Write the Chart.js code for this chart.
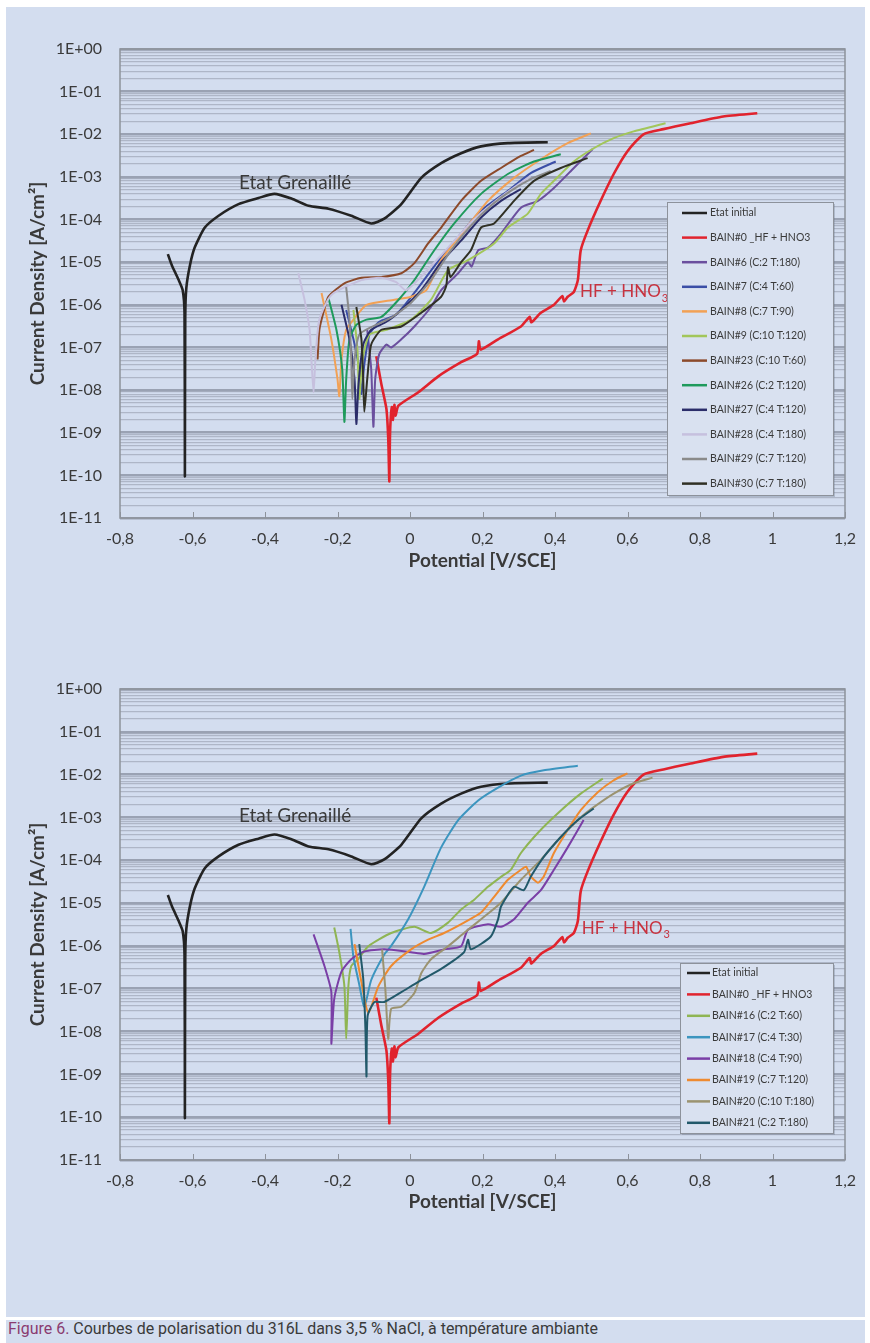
<!DOCTYPE html>
<html><head><meta charset="utf-8">
<script src="https://cdn.jsdelivr.net/npm/chart.js@4.4.1/dist/chart.umd.min.js"></script>
<style>
html,body{margin:0;padding:0;background:#fff;}
body{width:870px;height:1343px;position:relative;overflow:hidden;font-family:Lato,sans-serif;}
#panel{position:absolute;left:6px;top:7px;width:859px;height:1310px;background:#d3ddef;}
#capbar{position:absolute;left:6px;top:1320px;width:859px;height:23px;background:#d3ddef;}
#caption{position:absolute;left:8px;top:1318px;height:22px;line-height:22px;white-space:nowrap;font-family:Roboto,sans-serif;font-size:16px;color:#3a3a3a;transform-origin:0 50%;}
#caption .fig{color:#8a3b70;}
canvas{position:absolute;left:0;}
#c1{top:0;} #c2{top:640px;}
</style></head>
<body>
<div id="panel"></div>
<div id="capbar"></div>
<div id="caption"><span class="fig">Figure 6.</span> Courbes de polarisation du 316L dans 3,5 % NaCl, à température ambiante</div>
<canvas id="c1" width="870" height="600"></canvas>
<canvas id="c2" width="870" height="600"></canvas>
<script>
// ---------- axis ticks ----------
const xTickValues = [-0.8,-0.6,-0.4,-0.2,0,0.2,0.4,0.6,0.8,1,1.2];
const xTickLabels = ['-0,8','-0,6','-0,4','-0,2','0','0,2','0,4','0,6','0,8','1','1,2'];
const yDecades = [1,1e-1,1e-2,1e-3,1e-4,1e-5,1e-6,1e-7,1e-8,1e-9,1e-10,1e-11];
const yTickLabels = ['1E+00','1E-01','1E-02','1E-03','1E-04','1E-05','1E-06','1E-07','1E-08','1E-09','1E-10','1E-11'];
const yMinorFactors = [2,3,4,5,6,7,8,9];

// ---------- series: [potential V/SCE, current density A/cm2] ----------
const etatInitial = [[-0.668,1.55e-5],[-0.657,8.5e-6],[-0.638,3.8e-6],[-0.627,2.2e-6],[-0.622,6.3e-7],[-0.621,9.5e-11],[-0.620,5.0e-7],[-0.617,2.5e-6],[-0.607,8.5e-6],[-0.594,2.2e-5],[-0.566,6.5e-5],[-0.528,1.23e-4],[-0.473,2.3e-4],[-0.418,3.2e-4],[-0.374,4.0e-4],[-0.327,3.1e-4],[-0.280,2.1e-4],[-0.225,1.8e-4],[-0.162,1.23e-4],[-0.107,8.1e-5],[-0.071,1.05e-4],[-0.024,2.3e-4],[0.031,9.5e-4],[0.086,2.1e-3],[0.141,3.6e-3],[0.196,5.2e-3],[0.270,6.2e-3],[0.380,6.5e-3]];
const bain0 = [[-0.093,6.2e-8],[-0.079,1.38e-8],[-0.065,3.6e-9],[-0.060,7.2e-10],[-0.057,7.2e-11],[-0.055,1.0e-9],[-0.050,4.0e-9],[-0.047,2.0e-9],[-0.043,4.5e-9],[-0.040,2.5e-9],[-0.032,4.3e-9],[0.023,8.9e-9],[0.078,2.1e-8],[0.141,4.5e-8],[0.185,7.1e-8],[0.190,1.4e-7],[0.195,8.9e-8],[0.243,1.55e-7],[0.306,3.1e-7],[0.330,5.2e-7],[0.335,3.9e-7],[0.361,6.5e-7],[0.397,1.0e-6],[0.420,1.6e-6],[0.425,1.2e-6],[0.435,1.55e-6],[0.452,2.0e-6],[0.463,3.8e-6],[0.471,1.9e-5],[0.490,5.5e-5],[0.526,2.75e-4],[0.562,1.17e-3],[0.600,4.0e-3],[0.644,1.0e-2],[0.699,1.32e-2],[0.774,1.82e-2],[0.864,2.6e-2],[0.958,3.1e-2]];
const bain6 = [[-0.118,2.6e-7],[-0.107,3.1e-8],[-0.101,1.38e-9],[-0.096,1.8e-8],[-0.085,6.9e-8],[-0.065,1.17e-7],[-0.052,1.0e-7],[-0.024,1.55e-7],[0.012,3.1e-7],[0.058,8.9e-7],[0.086,2.2e-6],[0.133,5.5e-6],[0.160,1.0e-5],[0.170,7.9e-6],[0.188,1.9e-5],[0.215,2.2e-5],[0.251,4.7e-5],[0.306,1.9e-4],[0.353,2.75e-4],[0.397,5.5e-4],[0.452,1.62e-3],[0.504,4.5e-3]];
const bain7 = [[-0.176,7.6e-7],[-0.156,1.55e-7],[-0.140,3.1e-8],[-0.134,8.1e-9],[-0.126,4.0e-8],[-0.112,2.0e-7],[-0.085,4.0e-7],[-0.038,5.9e-7],[0.012,1.9e-6],[0.086,1.32e-5],[0.141,4.7e-5],[0.196,1.62e-4],[0.270,4.7e-4],[0.333,1.23e-3],[0.402,2.3e-3]];
const bain8 = [[-0.244,1.9e-6],[-0.217,1.55e-7],[-0.200,1.8e-8],[-0.195,7.2e-9],[-0.189,5.2e-8],[-0.176,2.6e-7],[-0.156,4.5e-7],[-0.120,1.0e-6],[-0.043,1.32e-6],[0.003,1.55e-6],[0.045,2.2e-6],[0.086,1.12e-5],[0.149,5.5e-5],[0.215,2.75e-4],[0.287,9.5e-4],[0.361,2.6e-3],[0.435,6.2e-3],[0.499,1.05e-2]];
const bain9 = [[-0.156,7.6e-7],[-0.145,8.9e-8],[-0.140,6.2e-9],[-0.131,5.2e-8],[-0.112,2.0e-7],[-0.065,2.6e-7],[0.003,4.5e-7],[0.058,1.32e-6],[0.105,6.5e-6],[0.160,1.12e-5],[0.232,2.75e-5],[0.270,6.5e-5],[0.325,1.38e-4],[0.361,4.0e-4],[0.397,8.1e-4],[0.452,2.3e-3],[0.507,4.7e-3],[0.562,8.1e-3],[0.617,1.17e-2],[0.705,1.82e-2]];
const bain23 = [[-0.255,5.2e-8],[-0.250,2.6e-7],[-0.239,6.5e-7],[-0.225,1.55e-6],[-0.181,3.2e-6],[-0.134,4.3e-6],[-0.079,4.5e-6],[-0.024,5.5e-6],[0.012,9.5e-6],[0.050,2.75e-5],[0.086,6.5e-5],[0.141,2.75e-4],[0.196,8.1e-4],[0.251,1.62e-3],[0.306,3.1e-3],[0.342,4.3e-3]];
const bain26 = [[-0.225,1.45e-6],[-0.203,2.6e-7],[-0.187,3.1e-8],[-0.181,1.8e-9],[-0.176,1.8e-8],[-0.167,1.55e-7],[-0.148,3.4e-7],[-0.120,4.5e-7],[-0.079,5.2e-7],[-0.024,1.55e-6],[0.012,3.8e-6],[0.067,1.9e-5],[0.122,8.1e-5],[0.196,4.0e-4],[0.270,1.17e-3],[0.342,2.3e-3],[0.416,3.4e-3]];
const bain27 = [[-0.189,1.0e-6],[-0.167,1.55e-7],[-0.153,1.8e-8],[-0.148,1.6e-9],[-0.142,1.38e-8],[-0.129,1.17e-7],[-0.107,2.6e-7],[-0.065,4.0e-7],[-0.024,7.6e-7],[0.031,2.2e-6],[0.086,1.0e-5],[0.141,3.2e-5],[0.196,1.12e-4],[0.251,2.75e-4],[0.306,5.2e-4]];
const bain28 = [[-0.308,5.5e-6],[-0.291,1.32e-6],[-0.277,2.6e-7],[-0.272,5.2e-8],[-0.266,8.9e-9],[-0.261,5.2e-8],[-0.250,4.5e-7],[-0.217,1.7e-6],[-0.134,3.8e-6],[-0.079,4.3e-6],[-0.038,3.4e-6],[-0.010,2.2e-6],[0.086,1.45e-5],[0.168,8.5e-5],[0.251,3.4e-4],[0.333,1.05e-3]];
const bain29 = [[-0.176,2.6e-6],[-0.167,4.5e-7],[-0.162,5.2e-8],[-0.159,6.2e-9],[-0.153,5.2e-8],[-0.140,2.0e-7],[-0.107,3.0e-7],[-0.052,5.0e-7],[0.003,1.12e-6],[0.058,3.8e-6],[0.113,1.9e-5],[0.168,7.2e-5],[0.223,2.1e-4],[0.278,4.7e-4],[0.333,8.9e-4],[0.388,1.38e-3]];
const bain30 = [[-0.148,8.9e-7],[-0.134,1.55e-7],[-0.129,1.8e-8],[-0.126,3.1e-9],[-0.118,1.8e-8],[-0.107,1.17e-7],[-0.079,2.6e-7],[-0.024,3.1e-7],[0.031,6.5e-7],[0.086,1.55e-6],[0.100,2.8e-6],[0.105,7.6e-6],[0.112,4.5e-6],[0.141,1.0e-5],[0.168,1.9e-5],[0.196,6.5e-5],[0.232,8.1e-5],[0.287,2.75e-4],[0.342,8.1e-4],[0.416,1.62e-3],[0.490,2.75e-3]];
const bain16 = [[-0.209,2.7e-6],[-0.195,7.1e-7],[-0.181,1.15e-7],[-0.176,6.8e-9],[-0.170,1.15e-7],[-0.162,3.4e-7],[-0.143,4.9e-7],[-0.115,9.8e-7],[-0.052,2.0e-6],[0.012,2.8e-6],[0.058,2.0e-6],[0.105,3.5e-6],[0.141,7.1e-6],[0.177,1.2e-5],[0.215,2.4e-5],[0.251,4.1e-5],[0.278,6.0e-5],[0.306,1.48e-4],[0.353,4.4e-4],[0.408,1.26e-3],[0.471,3.6e-3],[0.532,8.1e-3]];
const bain17 = [[-0.164,2.5e-6],[-0.156,5.5e-7],[-0.140,1.26e-7],[-0.126,3.8e-8],[-0.107,1.6e-7],[-0.071,6.3e-7],[-0.052,1.0e-6],[-0.005,4.2e-6],[0.039,2.4e-5],[0.086,2.0e-4],[0.133,8.7e-4],[0.188,2.5e-3],[0.243,5.0e-3],[0.306,9.5e-3],[0.369,1.26e-2],[0.463,1.62e-2]];
const bain18 = [[-0.266,1.86e-6],[-0.236,3.4e-7],[-0.217,8.3e-8],[-0.217,5.2e-9],[-0.209,5.8e-8],[-0.189,2.5e-7],[-0.162,4.9e-7],[-0.126,7.4e-7],[-0.071,8.3e-7],[0.003,7.1e-7],[0.039,6.5e-7],[0.094,8.3e-7],[0.141,9.8e-7],[0.160,2.4e-6],[0.215,3.2e-6],[0.251,2.8e-6],[0.287,4.2e-6],[0.325,1.02e-5],[0.361,2.0e-5],[0.397,6.0e-5],[0.435,2.0e-4],[0.479,8.7e-4]];
const bain19 = [[-0.153,1.1e-6],[-0.135,1.58e-7],[-0.115,2.75e-8],[-0.087,1.15e-7],[-0.052,3.4e-7],[0.003,8.3e-7],[0.050,1.4e-6],[0.094,2.0e-6],[0.149,3.5e-6],[0.196,6.0e-6],[0.232,1.4e-5],[0.270,3.5e-5],[0.306,6.0e-5],[0.320,7.1e-5],[0.333,4.2e-5],[0.353,3.0e-5],[0.369,4.2e-5],[0.397,1.48e-4],[0.435,5.1e-4],[0.471,1.48e-3],[0.518,3.9e-3],[0.562,7.4e-3],[0.600,1.07e-2]];
const bain20 = [[-0.077,8.3e-7],[-0.068,9.8e-8],[-0.060,6.8e-9],[-0.052,3.4e-8],[-0.024,3.8e-8],[0.012,7.9e-8],[0.031,2.3e-7],[0.058,4.9e-7],[0.105,9.8e-7],[0.149,2.0e-6],[0.196,4.2e-6],[0.251,1.02e-5],[0.306,3.5e-5],[0.361,1.02e-4],[0.416,3.5e-4],[0.471,1.0e-3],[0.507,1.74e-3],[0.562,3.6e-3],[0.617,6.3e-3],[0.669,8.5e-3]];
const bain21 = [[-0.140,1.1e-6],[-0.129,1.7e-7],[-0.123,1.17e-8],[-0.120,8.9e-10],[-0.117,2.3e-8],[-0.098,4.9e-8],[-0.071,4.9e-8],[-0.024,8.3e-8],[0.023,1.45e-7],[0.086,2.9e-7],[0.149,7.1e-7],[0.160,1.4e-6],[0.168,8.3e-7],[0.223,1.66e-6],[0.243,4.2e-6],[0.251,8.3e-6],[0.287,2.4e-5],[0.314,2.0e-5],[0.333,4.1e-5],[0.369,1.2e-4],[0.416,3.5e-4],[0.463,8.7e-4],[0.507,1.62e-3]];

const series1 = [
  {label:'Etat initial', data:etatInitial, color:'#232323', w:2.6},
  {label:'BAIN#0 _HF + HNO3', data:bain0, color:'#e1232d', w:2.6},
  {label:'BAIN#6 (C:2 T:180)', data:bain6, color:'#6b4f9e', w:2},
  {label:'BAIN#7 (C:4 T:60)', data:bain7, color:'#3b4ea6', w:2},
  {label:'BAIN#8 (C:7 T:90)', data:bain8, color:'#f2a155', w:2},
  {label:'BAIN#9 (C:10 T:120)', data:bain9, color:'#a2c65a', w:2},
  {label:'BAIN#23 (C:10 T:60)', data:bain23, color:'#8c4a2b', w:2},
  {label:'BAIN#26 (C:2 T:120)', data:bain26, color:'#1f9a5c', w:2},
  {label:'BAIN#27 (C:4 T:120)', data:bain27, color:'#2b2d6a', w:2},
  {label:'BAIN#28 (C:4 T:180)', data:bain28, color:'#c6c0de', w:2},
  {label:'BAIN#29 (C:7 T:120)', data:bain29, color:'#8a8a8a', w:2},
  {label:'BAIN#30 (C:7 T:180)', data:bain30, color:'#303024', w:2}
];
const series2 = [
  {label:'Etat initial', data:etatInitial, color:'#232323', w:2.6},
  {label:'BAIN#0 _HF + HNO3', data:bain0, color:'#e1232d', w:2.6},
  {label:'BAIN#16 (C:2 T:60)', data:bain16, color:'#8fb553', w:2},
  {label:'BAIN#17 (C:4 T:30)', data:bain17, color:'#3c95bf', w:2},
  {label:'BAIN#18 (C:4 T:90)', data:bain18, color:'#7a3fa6', w:2},
  {label:'BAIN#19 (C:7 T:120)', data:bain19, color:'#ee8a30', w:2},
  {label:'BAIN#20 (C:10 T:180)', data:bain20, color:'#9b9370', w:2},
  {label:'BAIN#21 (C:2 T:180)', data:bain21, color:'#22596a', w:2}
];

// ---------- helpers ----------
const yTickValues = [];
for (let i = yDecades.length - 1; i >= 1; i--) {
  yTickValues.push(yDecades[i]);
  yMinorFactors.forEach(f => yTickValues.push(yDecades[i] * f));
}
yTickValues.push(yDecades[0]);
function decadeIndex(v){
  for (let i = 0; i < yDecades.length; i++) if (Math.abs(v / yDecades[i] - 1) < 1e-6) return i;
  return -1;
}
const AX = '#8d929b';
const TXT = '#3a3a3a';

function framePlugin(){
  return {id:'frame', afterDatasetsDraw(chart){
    const {ctx, chartArea:a} = chart; const xs = chart.scales.x;
    ctx.save(); ctx.strokeStyle = AX; ctx.lineWidth = 1.5;
    ctx.strokeRect(a.left, a.top, a.right - a.left, a.bottom - a.top);
    ctx.lineWidth = 1;
    xs.ticks.forEach(t => { const px = Math.round(xs.getPixelForValue(t.value)) + 0.5;
      ctx.beginPath(); ctx.moveTo(px, a.bottom); ctx.lineTo(px, a.bottom - 6); ctx.stroke(); });
    ctx.restore();
  }};
}
function legendPlugin(o){
  return {id:'boxLegend', afterDraw(chart){
    const ctx = chart.ctx; ctx.save();
    ctx.fillStyle = 'rgba(110,120,140,0.35)'; ctx.fillRect(o.x + 2, o.y + 2, o.w, o.h);
    ctx.fillStyle = '#d9e1f0'; ctx.fillRect(o.x, o.y, o.w, o.h);
    ctx.strokeStyle = AX; ctx.lineWidth = 1; ctx.strokeRect(o.x + 0.5, o.y + 0.5, o.w, o.h);
    ctx.font = '10.5px Lato'; ctx.textBaseline = 'middle'; ctx.textAlign = 'left';
    chart.data.datasets.forEach((d, i) => {
      const y = o.firstRow + i * o.rowH;
      ctx.strokeStyle = d.borderColor; ctx.lineWidth = 2.5;
      ctx.beginPath(); ctx.moveTo(o.lx0, y); ctx.lineTo(o.lx1, y); ctx.stroke();
      ctx.fillStyle = TXT; ctx.fillText(d.label, o.tx, y);
    });
    ctx.restore();
  }};
}
function notesPlugin(notes){
  return {id:'notes', afterDatasetsDraw(chart){
    const ctx = chart.ctx; const xs = chart.scales.x, ys = chart.scales.y;
    ctx.save(); ctx.textBaseline = 'middle';
    notes.forEach(n => {
      const px = xs.getPixelForValue(n.x), py = ys.getPixelForValue(n.y);
      ctx.font = n.font; ctx.fillStyle = n.color; ctx.textAlign = n.align;
      ctx.fillText(n.text, px, py);
      if (n.sub) { const w = ctx.measureText(n.text).width; ctx.font = n.subFont; ctx.textAlign = 'left'; ctx.fillText(n.sub, px + w + 1, py + 6); }
    });
    ctx.restore();
  }};
}

function makeChart(id, series, cfg){
  const datasets = series.map((s, i) => ({
    label: s.label, data: s.data.map(p => ({x:p[0], y:p[1]})),
    borderColor: s.color, backgroundColor: s.color, borderWidth: s.w,
    showLine: true, pointRadius: 0, tension: 0.2, fill: false, order: -i
  }));
  return new Chart(document.getElementById(id), {
    type: 'scatter',
    data: {datasets},
    options: {
      responsive: false, animation: false, events: [],
      layout: {padding: {left: 0, right: 25, top: cfg.top, bottom: 0}},
      plugins: {legend: {display: false}, tooltip: {enabled: false}},
      scales: {
        x: {type: 'linear', min: -0.8, max: 1.2,
          afterBuildTicks: s => { s.ticks = xTickValues.map(v => ({value: v})); },
          afterFit: s => { s.height = cfg.xAxisH; },
          grid: {display: false, drawTicks: false}, border: {display: false},
          ticks: {callback: (v, i) => xTickLabels[i], autoSkip: false, maxRotation: 0, padding: 11, color: TXT, font: {family: 'Lato', size: 16}},
          title: {display: true, text: 'Potential [V/SCE]', color: TXT, font: {family: 'Lato', size: 19, weight: 'bold'}, padding: {top: 0, bottom: cfg.xTitlePad}}
        },
        y: {type: 'logarithmic', min: 1e-11, max: 1,
          afterBuildTicks: s => { s.ticks = yTickValues.map(v => ({value: v})); },
          afterFit: s => { s.width = 120; },
          border: {display: false},
          grid: {drawTicks: false,
            color: c => (c.tick && decadeIndex(c.tick.value) >= 0) ? '#9aa2b3' : '#aeb6c7',
            lineWidth: c => (c.tick && decadeIndex(c.tick.value) >= 0) ? 2.5 : 1.3},
          ticks: {autoSkip: false, padding: 18, color: TXT, font: {family: 'Lato', size: 16},
            callback: v => { const k = decadeIndex(v); return k >= 0 ? yTickLabels[k] : ''; }},
          title: {display: true, text: 'Current Density [A/cm²]', color: TXT, font: {family: 'Lato', size: 19, weight: 'bold'}, padding: {top: 26, bottom: 0}}
        }
      }
    },
    plugins: [framePlugin(), notesPlugin(cfg.notes), legendPlugin(cfg.legend)]
  });
}

function draw(){
  Chart.defaults.font.family = 'Lato';
  makeChart('c1', series1, {top: 49, xAxisH: 82, xTitlePad: 28,
    legend: {x: 667, y: 202, w: 166, h: 293, firstRow: 213, rowH: 24.6, lx0: 682, lx1: 707, tx: 710},
    notes: [
      {text: 'Etat Grenaillé', x: -0.317, y: 7.1e-4, color: '#3a3a3a', font: '19px Lato', align: 'center'},
      {text: 'HF + HNO', sub: '3', x: 0.469, y: 2.0e-6, color: '#c8323f', font: '17px Lato', subFont: '11px Lato', align: 'left'}
    ]});
  makeChart('c2', series2, {top: 49, xAxisH: 80, xTitlePad: 27,
    legend: {x: 680, y: 323, w: 153, h: 170, firstRow: 333, rowH: 21.4, lx0: 687, lx1: 710, tx: 712},
    notes: [
      {text: 'Etat Grenaillé', x: -0.317, y: 1.1e-3, color: '#3a3a3a', font: '19px Lato', align: 'center'},
      {text: 'HF + HNO', sub: '3', x: 0.474, y: 2.5e-6, color: '#c8323f', font: '17px Lato', subFont: '11px Lato', align: 'left'}
    ]});
  const cap = document.getElementById('caption');
  const w = cap.getBoundingClientRect().width;
  cap.style.transform = 'scaleX(' + (590 / w) + ')';
}
Promise.all([document.fonts.load('16px Lato'), document.fonts.load('bold 19px Lato'), document.fonts.load('16px Roboto')]).then(draw, draw);
</script>
</body></html>
